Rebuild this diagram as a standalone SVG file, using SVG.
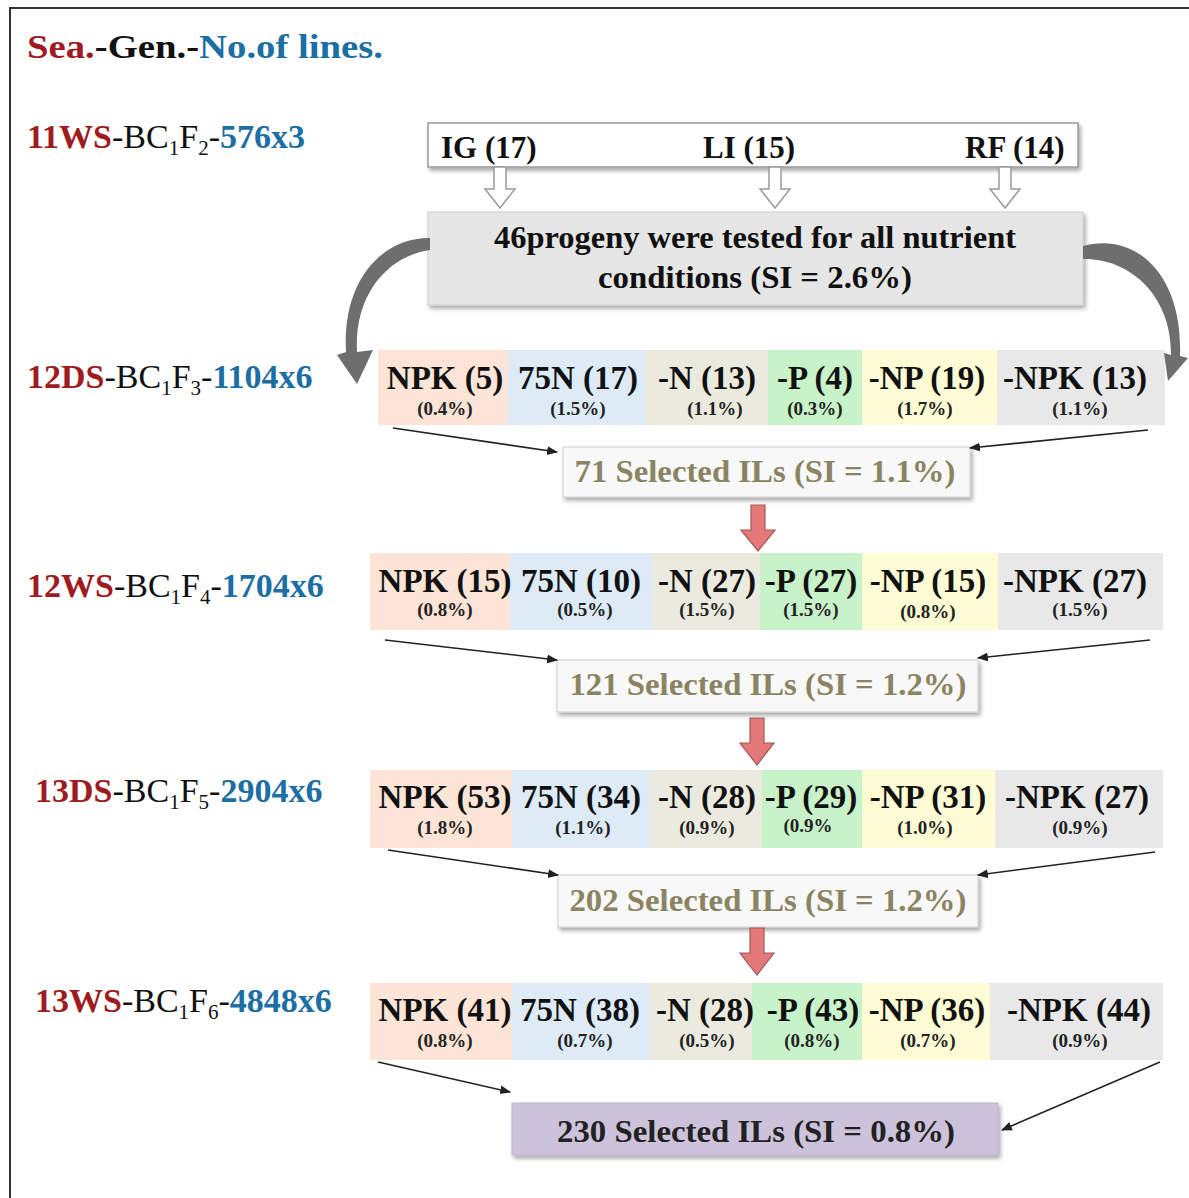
<svg xmlns="http://www.w3.org/2000/svg" width="1189" height="1198" viewBox="0 0 1189 1198">
<defs>
<style>
text{font-family:"Liberation Serif","Times New Roman",serif;}
.b{font-weight:bold;}
.lbl{font-size:34px;font-weight:normal;fill:#111;}
.sea{fill:#9e1b1f;font-weight:bold;}
.num{fill:#1c6ea4;font-weight:bold;}
.sub{font-size:21px;}
.cell{font-size:33px;font-weight:bold;fill:#111;text-anchor:middle;}
.pct{font-size:19px;font-weight:bold;fill:#222;text-anchor:middle;}
.sel{font-size:32px;font-weight:bold;fill:#8a8462;text-anchor:middle;}
.c1{fill:#fce4d6;}
.c2{fill:#ddebf7;}
.c3{fill:#ebeadf;}
.c4{fill:#c8f2c8;}
.c5{fill:#fefcd4;}
.c6{fill:#e8e8e8;}
.box{fill:#f8f8f8;stroke:#d0d0d0;stroke-width:1;}
.thin{stroke:#222;stroke-width:1.6;fill:none;}
.hollow{fill:#fff;stroke:#9a9a9a;stroke-width:1.5;}
.red{fill:#e57878;stroke:#9a5a5a;stroke-width:1.2;}
.curve{fill:#6e6e6e;}
</style>
<marker id="ah" viewBox="0 0 10 10" refX="9" refY="5" markerWidth="11" markerHeight="11" markerUnits="userSpaceOnUse" orient="auto"><path d="M0,1 L10,5 L0,9 Z" fill="#222"/></marker>
<filter id="sh" x="-5%" y="-15%" width="112%" height="150%"><feDropShadow dx="2" dy="3" stdDeviation="2" flood-color="#000" flood-opacity="0.35"/></filter>
</defs>
<rect x="0" y="0" width="1189" height="1198" fill="#fff"/>
<rect x="10" y="8" width="1200" height="1210" fill="none" stroke="#333" stroke-width="2"/>

<g id="title">
<text x="27" y="58" class="b" font-size="33" textLength="356" lengthAdjust="spacingAndGlyphs"><tspan fill="#9e1b1f">Sea.</tspan><tspan fill="#111">-Gen.-</tspan><tspan fill="#1c6ea4">No.of lines.</tspan></text>
</g>

<g id="row-labels">
<text x="27" y="148" class="lbl"><tspan class="sea">11WS</tspan>-BC<tspan class="sub" dy="7">1</tspan><tspan dy="-7">F</tspan><tspan class="sub" dy="7">2</tspan><tspan dy="-7">-</tspan><tspan class="num">576x3</tspan></text>
<text x="27" y="388" class="lbl"><tspan class="sea">12DS</tspan>-BC<tspan class="sub" dy="7">1</tspan><tspan dy="-7">F</tspan><tspan class="sub" dy="7">3</tspan><tspan dy="-7">-</tspan><tspan class="num">1104x6</tspan></text>
<text x="27" y="597" class="lbl"><tspan class="sea">12WS</tspan>-BC<tspan class="sub" dy="7">1</tspan><tspan dy="-7">F</tspan><tspan class="sub" dy="7">4</tspan><tspan dy="-7">-</tspan><tspan class="num">1704x6</tspan></text>
<text x="35" y="802" class="lbl" font-size="32"><tspan class="sea">13DS</tspan>-BC<tspan class="sub" dy="7">1</tspan><tspan dy="-7">F</tspan><tspan class="sub" dy="7">5</tspan><tspan dy="-7">-</tspan><tspan class="num">2904x6</tspan></text>
<text x="35" y="1012" class="lbl" font-size="32"><tspan class="sea">13WS</tspan>-BC<tspan class="sub" dy="7">1</tspan><tspan dy="-7">F</tspan><tspan class="sub" dy="7">6</tspan><tspan dy="-7">-</tspan><tspan class="num">4848x6</tspan></text>
</g>

<g id="sources">
<rect x="428" y="123" width="650" height="44" fill="#fff" stroke="#9a9a9a" stroke-width="1.5" filter="url(#sh)"/>
<text x="441" y="158" class="b" font-size="31" fill="#111">IG (17)</text>
<text x="703" y="158" class="b" font-size="31" fill="#111">LI (15)</text>
<text x="965" y="158" class="b" font-size="31" fill="#111">RF (14)</text>
</g>

<g id="progeny">
<rect x="428" y="212" width="655" height="93" fill="#e6e6e6" stroke="#cfcfcf" stroke-width="1" filter="url(#sh)"/>
<text x="755" y="248" class="b" font-size="31" fill="#111" text-anchor="middle" textLength="522" lengthAdjust="spacingAndGlyphs">46progeny  were tested for all nutrient</text>
<text x="755" y="288" class="b" font-size="31" fill="#111" text-anchor="middle" textLength="314" lengthAdjust="spacingAndGlyphs">conditions  (SI = 2.6%)</text>
</g>

<g id="row-12DS">
<rect class="c1" x="378" y="350" width="130" height="75"/>
<rect class="c2" x="508" y="350" width="137" height="75"/>
<rect class="c3" x="645" y="350" width="123" height="75"/>
<rect class="c4" x="768" y="350" width="94" height="75"/>
<rect class="c5" x="862" y="350" width="135" height="75"/>
<rect class="c6" x="997" y="350" width="168" height="75"/>
<text class="cell" x="445" y="389">NPK (5)</text>
<text class="cell" x="578" y="389">75N (17)</text>
<text class="cell" x="707" y="389">-N (13)</text>
<text class="cell" x="815" y="389">-P (4)</text>
<text class="cell" x="927" y="389">-NP (19)</text>
<text class="cell" x="1075" y="389">-NPK (13)</text>
<text class="pct" x="445" y="415">(0.4%)</text>
<text class="pct" x="578" y="415">(1.5%)</text>
<text class="pct" x="715" y="415">(1.1%)</text>
<text class="pct" x="815" y="415">(0.3%)</text>
<text class="pct" x="925" y="415">(1.7%)</text>
<text class="pct" x="1080" y="415">(1.1%)</text>
</g>

<g id="sel-71">
<rect class="box" x="563" y="447" width="407" height="50" filter="url(#sh)"/>
<text class="sel" x="765" y="482" textLength="381" lengthAdjust="spacingAndGlyphs">71 Selected ILs (SI = 1.1%)</text>
</g>

<g id="row-12WS">
<rect class="c1" x="370" y="553" width="140" height="77"/>
<rect class="c2" x="510" y="553" width="142" height="77"/>
<rect class="c3" x="652" y="553" width="108" height="77"/>
<rect class="c4" x="760" y="553" width="102" height="77"/>
<rect class="c5" x="862" y="553" width="136" height="77"/>
<rect class="c6" x="998" y="553" width="165" height="77"/>
<text class="cell" x="445" y="592">NPK (15)</text>
<text class="cell" x="581" y="592">75N (10)</text>
<text class="cell" x="707" y="592">-N (27)</text>
<text class="cell" x="811" y="592">-P (27)</text>
<text class="cell" x="928" y="592">-NP (15)</text>
<text class="cell" x="1075" y="592">-NPK (27)</text>
<text class="pct" x="445" y="616">(0.8%)</text>
<text class="pct" x="585" y="616">(0.5%)</text>
<text class="pct" x="707" y="616">(1.5%)</text>
<text class="pct" x="811" y="616">(1.5%)</text>
<text class="pct" x="928" y="618">(0.8%)</text>
<text class="pct" x="1080" y="616">(1.5%)</text>
</g>

<g id="sel-121">
<rect class="box" x="557" y="660" width="421" height="52" filter="url(#sh)"/>
<text class="sel" x="768" y="695" textLength="397" lengthAdjust="spacingAndGlyphs">121 Selected ILs (SI = 1.2%)</text>
</g>

<g id="row-13DS">
<rect class="c1" x="370" y="770" width="142" height="78"/>
<rect class="c2" x="512" y="770" width="138" height="78"/>
<rect class="c3" x="650" y="770" width="112" height="78"/>
<rect class="c4" x="762" y="770" width="100" height="78"/>
<rect class="c5" x="862" y="770" width="133" height="78"/>
<rect class="c6" x="995" y="770" width="168" height="78"/>
<text class="cell" x="445" y="808">NPK (53)</text>
<text class="cell" x="581" y="808">75N (34)</text>
<text class="cell" x="707" y="808">-N (28)</text>
<text class="cell" x="811" y="808">-P (29)</text>
<text class="cell" x="928" y="808">-NP (31)</text>
<text class="cell" x="1077" y="808">-NPK (27)</text>
<text class="pct" x="445" y="834">(1.8%)</text>
<text class="pct" x="583" y="834">(1.1%)</text>
<text class="pct" x="707" y="834">(0.9%)</text>
<text class="pct" x="808" y="832">(0.9%</text>
<text class="pct" x="925" y="834">(1.0%)</text>
<text class="pct" x="1080" y="834">(0.9%)</text>
</g>

<g id="sel-202">
<rect class="box" x="558" y="875" width="420" height="52" filter="url(#sh)"/>
<text class="sel" x="768" y="911" textLength="397" lengthAdjust="spacingAndGlyphs">202 Selected ILs (SI = 1.2%)</text>
</g>

<g id="row-13WS">
<rect class="c1" x="370" y="983" width="142" height="77"/>
<rect class="c2" x="512" y="983" width="138" height="77"/>
<rect class="c3" x="650" y="983" width="102" height="77"/>
<rect class="c4" x="752" y="983" width="110" height="77"/>
<rect class="c5" x="862" y="983" width="128" height="77"/>
<rect class="c6" x="990" y="983" width="173" height="77"/>
<text class="cell" x="445" y="1021">NPK (41)</text>
<text class="cell" x="580" y="1021">75N (38)</text>
<text class="cell" x="705" y="1021">-N (28)</text>
<text class="cell" x="813" y="1021">-P (43)</text>
<text class="cell" x="927" y="1021">-NP (36)</text>
<text class="cell" x="1079" y="1021">-NPK (44)</text>
<text class="pct" x="445" y="1047">(0.8%)</text>
<text class="pct" x="585" y="1047">(0.7%)</text>
<text class="pct" x="707" y="1047">(0.5%)</text>
<text class="pct" x="812" y="1047">(0.8%)</text>
<text class="pct" x="928" y="1047">(0.7%)</text>
<text class="pct" x="1080" y="1047">(0.9%)</text>
</g>

<g id="sel-230">
<rect x="512" y="1103" width="486" height="52" fill="#ccc3db" stroke="#bdb3cc" stroke-width="1" filter="url(#sh)"/>
<text class="sel" x="756" y="1142" style="fill:#222" textLength="398" lengthAdjust="spacingAndGlyphs">230 Selected ILs (SI = 0.8%)</text>
</g>

<g id="connectors">
<path class="hollow" d="M494,167 L506,167 L506,189 L515,189 L500,208 L485,189 L494,189 Z"/>
<path class="hollow" d="M769,167 L781,167 L781,189 L790,189 L775,208 L760,189 L769,189 Z"/>
<path class="hollow" d="M999,167 L1011,167 L1011,189 L1020,189 L1005,208 L990,189 L999,189 Z"/>
<path class="curve" d="M430,238 C386,237 342,276 346,352 L337,355 L357,384 L373,350 L357,352 C354,294 388,256 430,250 Z"/>
<path class="curve" d="M1083,246 C1132,232 1183,270 1180,356 L1188,358 L1168,381 L1164,353 L1171,355 C1172,296 1130,258 1083,259 Z"/>
<line class="thin" x1="393" y1="428" x2="557" y2="452" marker-end="url(#ah)"/>
<line class="thin" x1="1148" y1="430" x2="970" y2="448" marker-end="url(#ah)"/>
<line class="thin" x1="385" y1="640" x2="557" y2="660" marker-end="url(#ah)"/>
<line class="thin" x1="1150" y1="640" x2="978" y2="658" marker-end="url(#ah)"/>
<line class="thin" x1="388" y1="850" x2="558" y2="875" marker-end="url(#ah)"/>
<line class="thin" x1="1155" y1="852" x2="978" y2="875" marker-end="url(#ah)"/>
<line class="thin" x1="378" y1="1062" x2="510" y2="1092" marker-end="url(#ah)"/>
<line class="thin" x1="1160" y1="1062" x2="1002" y2="1130" marker-end="url(#ah)"/>
<path class="red" d="M751,505 L765,505 L765,530 L775,530 L758,551 L741,530 L751,530 Z"/>
<path class="red" d="M750,718 L764,718 L764,743 L774,743 L757,765 L740,743 L750,743 Z"/>
<path class="red" d="M750,928 L764,928 L764,953 L774,953 L757,975 L740,953 L750,953 Z"/>
</g>
</svg>
